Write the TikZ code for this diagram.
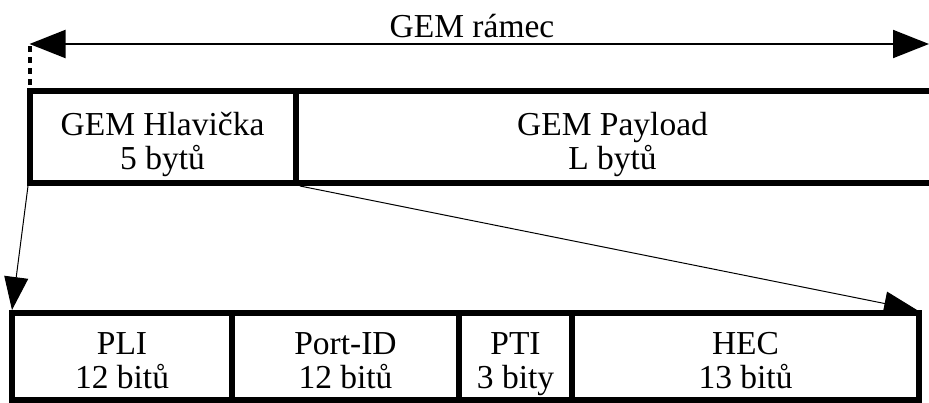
\documentclass[tikz,border=0pt]{standalone}
\usepackage{fontspec}
\setmainfont{Liberation Serif}
\usetikzlibrary{arrows.meta}
\begin{document}
\begin{tikzpicture}[x=1pt,y=-1pt,
  thickline/.style={line width=6pt,line cap=butt,line join=miter},
  lbl/.style={font=\fontsize{33.5}{34}\selectfont,align=center,inner sep=0pt,anchor=base},
  smalltip/.style={-{Triangle[length=33pt,width=24pt]}}]
\useasboundingbox (0,0) rectangle (929,402);
% coordinates
\coordinate (ra) at (29.5,44);
\coordinate (rb) at (929,44);
\coordinate (da) at (29.5,46);
\coordinate (db) at (29.5,88);
\coordinate (h1) at (28,186);
\coordinate (h2) at (300,186);
\coordinate (b1) at (12,310);
\coordinate (b2) at (917,310);
% frame arrow
\draw[line width=2pt,{Triangle[length=36pt,width=28pt]}-{Triangle[length=36pt,width=28pt]}] (ra) -- (rb);
\node[lbl] (frame) at (472,37) {GEM rámec};
\draw[line width=4pt,dash pattern=on 6pt off 5pt] (da) -- (db);
% top box
\draw[thickline] (929,91) -- (29.5,91) -- (29.5,183) -- (929,183);
\draw[thickline] (296,91) -- (296,183);
\node[lbl] (hdr) at (162.5,169.5) {GEM Hlavička\\5 bytů};
\node[lbl] (pay) at (612.5,169.5) {GEM Payload\\L bytů};
% bottom box
\draw[thickline] (12,313) rectangle (919,399.5);
\draw[thickline] (232,313) -- (232,399.5);
\draw[thickline] (459,313) -- (459,399.5);
\draw[thickline] (572,313) -- (572,399.5);
\node[lbl] (pli) at (122,388) {PLI\\12 bitů};
\node[lbl] (port) at (345.5,388) {Port-ID\\12 bitů};
\node[lbl] (pti) at (515.5,388) {PTI\\3 bity};
\node[lbl] (hec) at (745.5,388) {HEC\\13 bitů};
% expansion arrows
\draw[line width=1pt,smalltip] (h1) -- (b1);
\draw[line width=1pt,smalltip] (h2) -- (b2);
\end{tikzpicture}
\end{document}
